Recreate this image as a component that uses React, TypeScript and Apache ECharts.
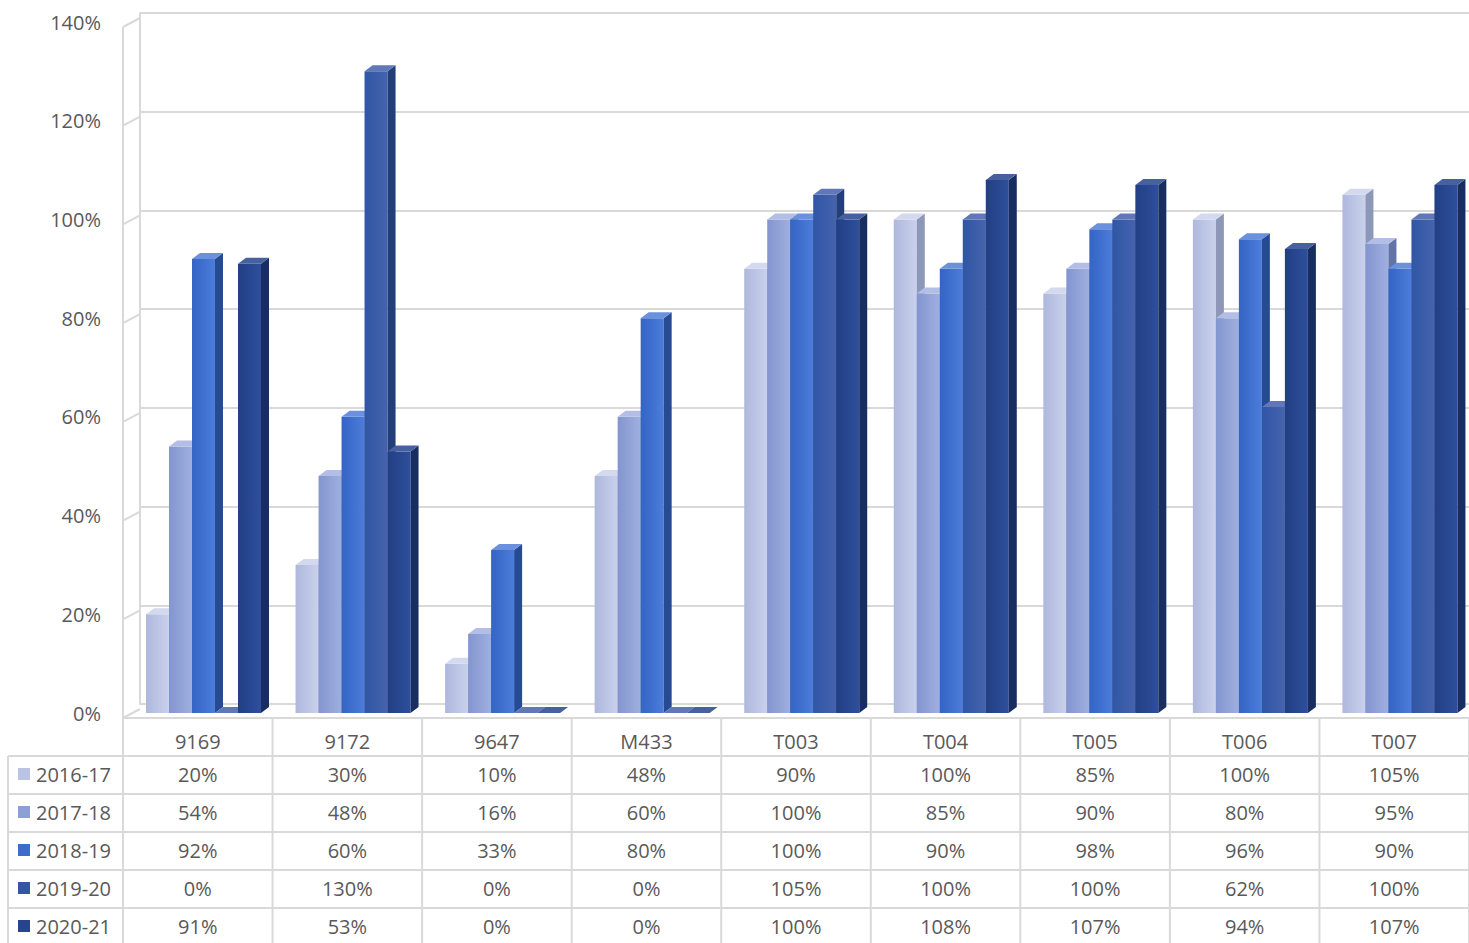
import React, { useEffect, useRef } from "react";
import * as echarts from "echarts";

const categories = ["9169", "9172", "9647", "M433", "T003", "T004", "T005", "T006", "T007"];
const years = ["2016-17", "2017-18", "2018-19", "2019-20", "2020-21"];
const v1617 = [20, 30, 10, 48, 90, 100, 85, 100, 105];
const v1718 = [54, 48, 16, 60, 100, 85, 90, 80, 95];
const v1819 = [92, 60, 33, 80, 100, 90, 98, 96, 90];
const v1920 = [0, 130, 0, 0, 105, 100, 100, 62, 100];
const v2021 = [91, 53, 0, 0, 100, 108, 107, 94, 107];
const values = [v1617, v1718, v1819, v1920, v2021];

const fronts = [
  ["#aeb8dc", "#c9d1ec"],
  ["#8395cf", "#9fafdf"],
  ["#3464c4", "#4d7dda"],
  ["#2f56a5", "#4663ad"],
  ["#223f84", "#2f4f9c"],
];
const sides = ["#8d97b8", "#6273a8", "#264a94", "#223f7b", "#182e60"];
const tops = ["#d3d9ee", "#b2bee5", "#6a90de", "#6178b8", "#47609e"];
const legendColors = ["#b9c3e3", "#8c9fd6", "#3d6ccb", "#3557a3", "#26458e"];

const W = 1469, H = 943;
const tableTop = 718, rowH = 38, tableLeft = 123, outerLeft = 8;
const colW = (W - tableLeft) / categories.length;
const font = "'Open Sans', 'Liberation Sans', sans-serif";

const buildTable = () => {
  const els: any[] = [];
  const line = (x1: number, y1: number, x2: number, y2: number) =>
    els.push({ type: "line", shape: { x1, y1, x2, y2 }, style: { stroke: "#d9d9d9", lineWidth: 2 }, silent: true });
  line(tableLeft, tableTop, W, tableTop);
  for (let r = 1; r <= 5; r++) line(outerLeft, tableTop + r * rowH, W, tableTop + r * rowH);
  line(outerLeft, tableTop + rowH, outerLeft, H);
  for (let c = 0; c <= categories.length; c++) {
    const x = tableLeft + c * colW;
    line(x, tableTop, x, H);
  }
  categories.forEach((cat, c) => {
    els.push({
      type: "text",
      style: { text: cat, x: tableLeft + (c + 0.5) * colW, y: tableTop + rowH / 2 + 4, align: "center", verticalAlign: "middle", fill: "#595959", font: `20px ${font}` },
    });
  });
  years.forEach((yr, r) => {
    const cy = tableTop + (r + 1.5) * rowH - 1;
    els.push({ type: "rect", shape: { x: 18, y: cy - 6, width: 12, height: 12 }, style: { fill: legendColors[r] } });
    els.push({ type: "text", style: { text: yr, x: 36, y: cy, verticalAlign: "middle", fill: "#595959", font: `20px ${font}` } });
    values[r].forEach((v, c) => {
      els.push({
        type: "text",
        style: { text: v + "%", x: tableLeft + (c + 0.5) * colW, y: cy, align: "center", verticalAlign: "middle", fill: "#595959", font: `20px ${font}` },
      });
    });
  });
  return els;
};

const makeSeries = (si: number) => ({
  type: "custom",
  name: years[si],
  xAxisIndex: 0,
  yAxisIndex: 0,
  data: values[si].map((v, i) => [i, v]),
  encode: { x: 0, y: 1 },
  renderItem: (params: any, api: any) => {
    const ci = api.value(0);
    const v = api.value(1);
    const p0 = api.coord([ci, 0]);
    const p1 = api.coord([ci, v]);
    const bw = api.size([1, 0])[0];
    const w = 23, d = 8, dy = 6;
    const x = p0[0] - bw / 2 + 23 + si * w;
    const yT = p1[1], yB = p0[1];
    return {
      type: "group",
      children: [
        {
          type: "rect",
          shape: { x, y: yT, width: w, height: yB - yT },
          style: { fill: new echarts.graphic.LinearGradient(0, 0, 1, 0, [{ offset: 0, color: fronts[si][0] }, { offset: 1, color: fronts[si][1] }]) },
        },
        {
          type: "polygon",
          shape: { points: [[x + w, yT], [x + w + d, yT - dy], [x + w + d, yB - dy], [x + w, yB]] },
          style: { fill: sides[si] },
        },
        {
          type: "polygon",
          shape: { points: [[x, yT], [x + d, yT - dy], [x + w + d, yT - dy], [x + w, yT]] },
          style: { fill: tops[si] },
        },
      ],
    };
  },
});

const App = () => {
  const ref = useRef<HTMLDivElement>(null);
  useEffect(() => {
    if (!ref.current) return;
    const chart = echarts.init(ref.current, null, { renderer: "svg" });
    chart.setOption({
      animation: false,
      backgroundColor: "#ffffff",
      grid: [
        { left: tableLeft, right: 0, top: 22, bottom: H - 713 },
        { left: 140, right: 0, top: 13, bottom: H - 704 },
      ],
      xAxis: [
        { type: "category", data: categories, gridIndex: 0, axisLine: { show: false }, axisTick: { show: false }, axisLabel: { show: false } },
        { type: "category", data: categories, gridIndex: 1, show: false },
      ],
      yAxis: [
        {
          type: "value", gridIndex: 0, min: 0, max: 140, interval: 20,
          axisLabel: { formatter: "{value}%", color: "#595959", fontSize: 20, fontFamily: font, margin: 22, padding: [11, 0, 0, 0] },
          splitLine: { show: false }, axisLine: { show: false },
        },
        {
          type: "value", gridIndex: 1, min: 0, max: 140, interval: 20,
          axisLabel: { show: false },
          splitLine: { lineStyle: { color: "#d9d9d9", width: 2 } },
          axisLine: { show: true, lineStyle: { color: "#d9d9d9", width: 2 } },
        },
      ],
      graphic: [
        ...[0, 20, 40, 60, 80, 100, 120, 140].map((t) => {
          const yF = 713 - t * (713 - 22) / 140;
          return { type: "line", shape: { x1: tableLeft, y1: yF + 5, x2: 140, y2: yF - 9 + 5 }, style: { stroke: "#d9d9d9", lineWidth: 2 }, silent: true };
        }),
        { type: "line", shape: { x1: tableLeft, y1: 718, x2: tableLeft, y2: 27 }, style: { stroke: "#d9d9d9", lineWidth: 2 } },
        ...buildTable(),
      ],
      series: years.map((_, i) => makeSeries(i)),
    });
    return () => chart.dispose();
  }, []);
  return <div ref={ref} style={{ position: "fixed", left: 0, top: 0, width: W, height: H }} />;
};

export default App;
